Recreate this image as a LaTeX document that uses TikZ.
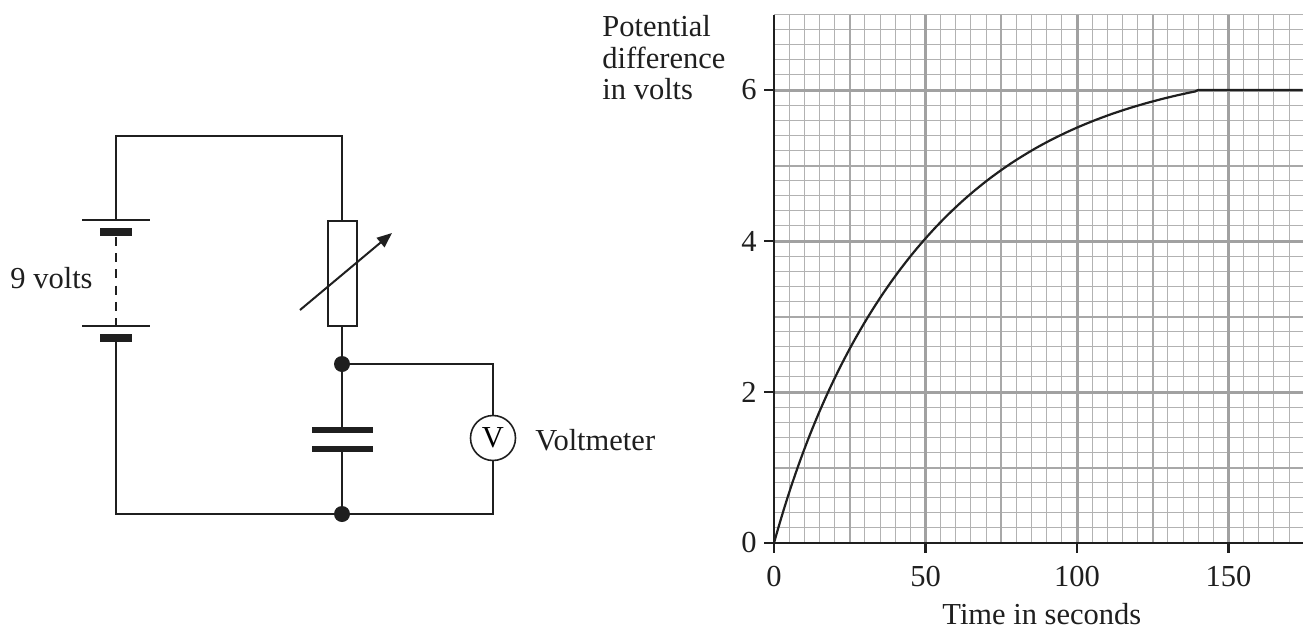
\documentclass[tikz,border=0pt]{standalone}
\usepackage{fontspec}
\setmainfont{Liberation Serif}
\usetikzlibrary{arrows.meta}

\begin{document}
\begin{tikzpicture}[
    x=0.5pt, y=-0.5pt,
    wire/.style={line width=1pt, draw=black!88},
    lbl/.style={font=\fontsize{15.25}{15.8}\selectfont, inner sep=0pt, text=black!88},
    cellplate/.style={fill=black!88},
    junction/.style={circle, fill=black!88, minimum size=8pt, inner sep=0pt},
    meter/.style={circle, draw=black!88, line width=0.8pt, minimum size=22.5pt, inner sep=0pt, font=\fontsize{15.25}{15.8}\selectfont},
    resbox/.style={rectangle, draw=black!88, line width=1pt, minimum width=14.5pt, minimum height=52.5pt, inner sep=0pt},
    finegrid/.style={line width=0.5pt, black!30},
    midgrid/.style={line width=1pt, black!34},
    boldgrid/.style={line width=1.5pt, black!37},
    axis/.style={line width=1.15pt, black!88},
    curve/.style={line width=1.1pt, black!88}
]
\useasboundingbox (0,0) rectangle (1303,632);

% Circuit corners
\coordinate (tl) at (116,136);
\coordinate (tr) at (342,136);
\coordinate (bl) at (116,514);
\coordinate (br) at (493,514);
\coordinate (vtop) at (493,364);
\coordinate (captop) at (342,427);
\coordinate (capbot) at (342,452);
\coordinate (cellA) at (116,220);
\coordinate (cellB) at (116,342);

% Battery (two cells, dashed link)
\draw[wire] (82,220) -- (150,220);
\fill[cellplate] (100,228) rectangle (132,236);
\draw[wire, line width=0.9pt, dash pattern=on 4.5pt off 3.6pt] (116,237) -- (116,325);
\draw[wire] (82,326) -- (150,326);
\fill[cellplate] (100,334) rectangle (132,342);
\node[lbl, anchor=base west] (batlbl) at (10,288) {9 volts};

% Variable resistor
\node[resbox] (res) at (342,273.5) {};
\draw[wire, -{Triangle[length=7.5pt, width=6pt]}] (300,310) -- (392,233);

% Capacitor
\fill[cellplate] (312,427) rectangle (373,433);
\fill[cellplate] (312,446) rectangle (373,452);

% Junctions and voltmeter
\node[junction] (jtop) at (342,364) {};
\node[junction] (jbot) at (342,514) {};
\node[meter] (vm) at (493,438) {V};
\node[lbl, anchor=base west] (vmlbl) at (535,450) {Voltmeter};

% Wires
\draw[wire] (cellA) -- (tl) -- (tr) -- (res.north);
\draw[wire] (res.south) -- (jtop) -- (captop);
\draw[wire] (capbot) -- (jbot);
\draw[wire] (jtop) -- (vtop) -- (vm.north);
\draw[wire] (vm.south) -- (br) -- (jbot) -- (bl) -- (cellB);

% Graph
\node[lbl, anchor=north west, align=left] (ylabel) at (602,15) {Potential\\difference\\in volts};
\begin{scope}[shift={(774,543)}, x=1.515pt, y=37.75pt]
  % grid: fine, medium, bold
  \foreach \t in {5,10,...,170} \draw[finegrid] (\t,0) -- (\t,7);
  \foreach \i in {1,...,35} \draw[finegrid] (0,\i/5) -- (174.5,\i/5);
  \foreach \t in {25,75,125} \draw[midgrid] (\t,0) -- (\t,7);
  \foreach \v in {1,3,5} \draw[midgrid] (0,\v) -- (174.5,\v);
  \foreach \t in {50,100,150} \draw[boldgrid] (\t,0) -- (\t,7);
  \foreach \v in {2,4,6} \draw[boldgrid] (0,\v) -- (174.5,\v);

  % axes
  \coordinate (orig) at (0,0);
  \coordinate (ytop) at (0,7);
  \coordinate (xend) at (174.5,0);
  \draw[axis] (ytop) -- (orig) -- (xend);
  \foreach \v in {0,2,4,6} {
    \draw[axis] (0,\v) -- ++(-5pt,0);
    \node[lbl, anchor=east] (ytick\v) at (-5.6,\v) {\v};
  }
  \foreach \t in {0,50,100,150} {
    \draw[axis] (\t,0) -- ++(0,-5pt);
    \node[lbl, anchor=north] (xtick\t) at (\t,-0.305) {\t};
  }
  \node[lbl, anchor=base] (xlabel) at (88.4,-1.086) {Time in seconds};

  % charging curve, levels off at 6 V
  \coordinate (flat) at (140,6);
  \coordinate (flatend) at (174.5,6);
  \draw[curve] plot[domain=0:139, samples=90, smooth] (\x, {6.4*(1-exp(-\x/51)) + 0.02*\x*exp(-\x/15)}) -- (flat) -- (flatend);
\end{scope}

\end{tikzpicture}
\end{document}
